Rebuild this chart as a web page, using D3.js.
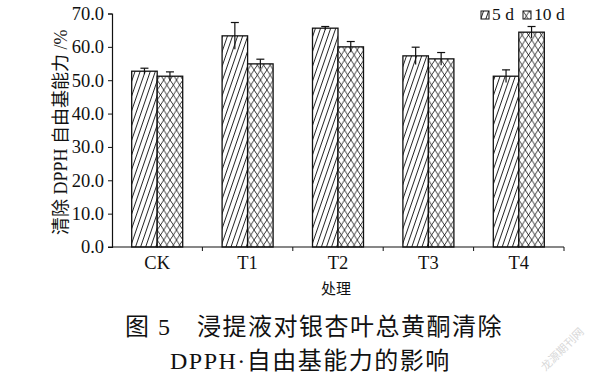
<!DOCTYPE html>
<html>
<head>
<meta charset="utf-8">
<script src="https://cdn.jsdelivr.net/npm/d3@7.9.0/dist/d3.min.js"></script>
<style>
  body { margin: 0; background: #fff; }
  svg text { font-family: "Liberation Serif", "Noto Sans CJK SC", serif; fill: #111; }
</style>
</head>
<body>
<svg id="chart" width="600" height="389"></svg>
<script>
// data
const categories = ['CK', 'T1', 'T2', 'T3', 'T4'];
const seriesNames = ['5 d', '10 d'];
const values5d = [52.7, 63.3, 65.6, 57.3, 51.2];
const values10d = [51.2, 54.9, 60.0, 56.4, 64.4];
const err5d = [0.9, 4.0, 0.5, 2.6, 1.9];
const err10d = [1.3, 1.4, 1.6, 1.9, 1.7];
const yTicks = [0, 10, 20, 30, 40, 50, 60, 70];

const svg = d3.select('#chart');
const margin = { left: 112, right: 36, top: 13.5, bottom: 142 };
const W = 600, H = 389;

const x = d3.scaleBand().domain(categories).range([margin.left, W - margin.right]);
const inner = d3.scaleBand().domain(seriesNames).range([0, 51]);
const y = d3.scaleLinear().domain([0, 70]).range([H - margin.bottom, margin.top]);

// hatch patterns
const defs = svg.append('defs');
const stripe = defs.append('pattern')
  .attr('id', 'p5').attr('patternUnits', 'userSpaceOnUse')
  .attr('width', 4.8).attr('height', 10)
  .attr('patternTransform', 'rotate(19)');
stripe.append('rect').attr('width', 4.8).attr('height', 10).attr('fill', '#fff');
stripe.append('line').attr('x1', 2.4).attr('x2', 2.4).attr('y1', 0).attr('y2', 10)
  .attr('stroke', '#111').attr('stroke-width', 0.9);

const cross = defs.append('pattern')
  .attr('id', 'p10').attr('patternUnits', 'userSpaceOnUse')
  .attr('width', 6.4).attr('height', 10);
cross.append('rect').attr('width', 6.4).attr('height', 10).attr('fill', '#fff');
cross.append('path').attr('d', 'M0,0L6.4,10M6.4,0L0,10')
  .attr('stroke', '#111').attr('stroke-width', 0.85).attr('fill', 'none');

const fills = ['url(#p5)', 'url(#p10)'];

const rows = categories.map((c, i) => ({
  cat: c,
  items: [
    { s: seriesNames[0], v: values5d[i], e: err5d[i] },
    { s: seriesNames[1], v: values10d[i], e: err10d[i] }
  ]
}));

const groups = svg.selectAll('g.cat').data(rows).join('g')
  .attr('class', 'cat')
  .attr('transform', d => `translate(${x(d.cat) + x.bandwidth() / 2 - 25.5},0)`);

groups.selectAll('rect').data(d => d.items).join('rect')
  .attr('x', d => inner(d.s))
  .attr('width', inner.bandwidth())
  .attr('y', d => y(d.v))
  .attr('height', d => y(0) - y(d.v))
  .attr('fill', (d, i) => fills[i])
  .attr('stroke', '#111').attr('stroke-width', 1.3);

// error bars
const eb = groups.selectAll('g.err').data(d => d.items).join('g').attr('class', 'err');
eb.append('line')
  .attr('x1', d => inner(d.s) + inner.bandwidth() / 2)
  .attr('x2', d => inner(d.s) + inner.bandwidth() / 2)
  .attr('y1', d => y(d.v + d.e)).attr('y2', d => y(d.v - d.e))
  .attr('stroke', '#111').attr('stroke-width', 1.2);
eb.append('line')
  .attr('x1', d => inner(d.s) + inner.bandwidth() / 2 - 4)
  .attr('x2', d => inner(d.s) + inner.bandwidth() / 2 + 4)
  .attr('y1', d => y(d.v + d.e)).attr('y2', d => y(d.v + d.e))
  .attr('stroke', '#111').attr('stroke-width', 1.2);

// y axis
const yAxis = svg.append('g')
  .attr('transform', `translate(${margin.left},0)`)
  .call(d3.axisLeft(y).tickValues(yTicks).tickFormat(d3.format('.1f')).tickSize(4).tickPadding(4));
yAxis.select('.domain').attr('stroke', '#111').attr('stroke-width', 1.2);
yAxis.selectAll('.tick line').attr('stroke', '#111');
yAxis.selectAll('.tick text').attr('font-size', 18.5).attr('font-family', 'Liberation Serif');

// x axis with boundary ticks
const xAxis = svg.append('g').attr('transform', `translate(0,${y(0)})`);
xAxis.append('line').attr('x1', margin.left - 4).attr('x2', W - margin.right)
  .attr('stroke', '#111').attr('stroke-width', 1.2);
xAxis.selectAll('line.bt').data(categories).join('line').attr('class', 'bt')
  .attr('x1', d => x(d) + x.bandwidth()).attr('x2', d => x(d) + x.bandwidth())
  .attr('y1', 0).attr('y2', 4).attr('stroke', '#111');
xAxis.selectAll('text').data(categories).join('text')
  .attr('x', d => x(d) + x.bandwidth() / 2).attr('y', 22)
  .attr('text-anchor', 'middle').attr('font-size', 18.5).text(d => d);

// axis titles
svg.append('text').attr('x', 336).attr('y', 294).attr('text-anchor', 'middle')
  .attr('font-size', 15).attr('font-family', 'Noto Sans CJK SC').text('处理');
svg.append('text')
  .attr('transform', `translate(67,${(margin.top + y(0)) / 2 + 2}) rotate(-90)`)
  .attr('text-anchor', 'middle').attr('font-size', 18)
  .text('清除 DPPH 自由基能力 /%');

// legend
const legend = svg.append('g').attr('transform', 'translate(481,11)');
const legX = [0, 42];
seriesNames.forEach((s, i) => {
  const g = legend.append('g').attr('transform', `translate(${legX[i]},0)`);
  g.append('rect').attr('width', 8).attr('height', 8)
    .attr('fill', fills[i]).attr('stroke', '#111');
  g.append('text').attr('x', 11).attr('y', 9).attr('font-size', 17.5).text(s);
});

// caption
svg.append('text').attr('x', 125).attr('y', 335).attr('font-size', 24)
  .attr('letter-spacing', 1.5).attr('font-family', 'Liberation Serif, Noto Sans CJK SC')
  .text('图 5\u3000浸提液对银杏叶总黄酮清除');
svg.append('text').attr('x', 170).attr('y', 369).attr('font-size', 24)
  .attr('letter-spacing', 1.5).attr('font-family', 'Liberation Serif, Noto Sans CJK SC')
  .text('DPPH·自由基能力的影响');

// watermark
svg.append('text').attr('transform', 'translate(565,352) rotate(-45)')
  .attr('text-anchor', 'middle').attr('font-size', 11)
  .attr('font-family', 'Noto Sans CJK SC').style('fill', '#d8d8d8')
  .text('龙源期刊网');
</script>
</body>
</html>
